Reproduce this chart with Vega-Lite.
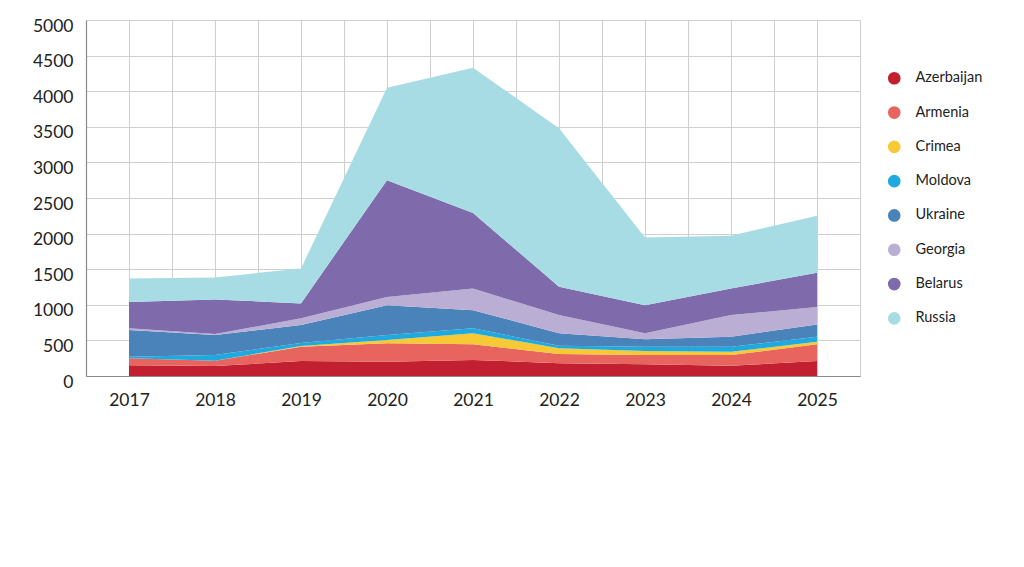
{
  "$schema": "https://vega.github.io/schema/vega-lite/v6.json",
  "width": 774,
  "height": 356,
  "autosize": {"type": "none"},
  "padding": {"left": 86, "top": 20, "right": 164, "bottom": 191},
  "background": "white",
  "config": {
    "view": {"stroke": null},
    "font": "Lato",
    "axis": {
      "grid": true,
      "gridColor": "#cfcfcf",
      "gridWidth": 1,
      "domainColor": "#8a8a8a",
      "domainWidth": 1.2,
      "ticks": false,
      "labelColor": "#222222",
      "labelFont": "Lato",
      "labelFontSize": 17.5,
      "title": null
    },
    "legend": {
      "labelFont": "Lato",
      "labelFontSize": 14.5,
      "labelColor": "#222222",
      "padding": 0
    }
  },
  "data": {
    "values": [
      {"year": 2017, "country": "Azerbaijan", "value": 150},
      {"year": 2017, "country": "Armenia", "value": 100},
      {"year": 2017, "country": "Crimea", "value": 0},
      {"year": 2017, "country": "Moldova", "value": 20},
      {"year": 2017, "country": "Ukraine", "value": 375},
      {"year": 2017, "country": "Georgia", "value": 25},
      {"year": 2017, "country": "Belarus", "value": 370},
      {"year": 2017, "country": "Russia", "value": 330},
      {"year": 2018, "country": "Azerbaijan", "value": 140},
      {"year": 2018, "country": "Armenia", "value": 75},
      {"year": 2018, "country": "Crimea", "value": 0},
      {"year": 2018, "country": "Moldova", "value": 80},
      {"year": 2018, "country": "Ukraine", "value": 280},
      {"year": 2018, "country": "Georgia", "value": 15},
      {"year": 2018, "country": "Belarus", "value": 485},
      {"year": 2018, "country": "Russia", "value": 310},
      {"year": 2019, "country": "Azerbaijan", "value": 210},
      {"year": 2019, "country": "Armenia", "value": 200},
      {"year": 2019, "country": "Crimea", "value": 10},
      {"year": 2019, "country": "Moldova", "value": 45},
      {"year": 2019, "country": "Ukraine", "value": 250},
      {"year": 2019, "country": "Georgia", "value": 95},
      {"year": 2019, "country": "Belarus", "value": 210},
      {"year": 2019, "country": "Russia", "value": 490},
      {"year": 2020, "country": "Azerbaijan", "value": 200},
      {"year": 2020, "country": "Armenia", "value": 260},
      {"year": 2020, "country": "Crimea", "value": 45},
      {"year": 2020, "country": "Moldova", "value": 70},
      {"year": 2020, "country": "Ukraine", "value": 420},
      {"year": 2020, "country": "Georgia", "value": 115},
      {"year": 2020, "country": "Belarus", "value": 1640},
      {"year": 2020, "country": "Russia", "value": 1300},
      {"year": 2021, "country": "Azerbaijan", "value": 225},
      {"year": 2021, "country": "Armenia", "value": 220},
      {"year": 2021, "country": "Crimea", "value": 155},
      {"year": 2021, "country": "Moldova", "value": 70},
      {"year": 2021, "country": "Ukraine", "value": 255},
      {"year": 2021, "country": "Georgia", "value": 305},
      {"year": 2021, "country": "Belarus", "value": 1060},
      {"year": 2021, "country": "Russia", "value": 2040},
      {"year": 2022, "country": "Azerbaijan", "value": 180},
      {"year": 2022, "country": "Armenia", "value": 130},
      {"year": 2022, "country": "Crimea", "value": 80},
      {"year": 2022, "country": "Moldova", "value": 35},
      {"year": 2022, "country": "Ukraine", "value": 175},
      {"year": 2022, "country": "Georgia", "value": 255},
      {"year": 2022, "country": "Belarus", "value": 400},
      {"year": 2022, "country": "Russia", "value": 2225},
      {"year": 2023, "country": "Azerbaijan", "value": 165},
      {"year": 2023, "country": "Armenia", "value": 130},
      {"year": 2023, "country": "Crimea", "value": 55},
      {"year": 2023, "country": "Moldova", "value": 60},
      {"year": 2023, "country": "Ukraine", "value": 105},
      {"year": 2023, "country": "Georgia", "value": 85},
      {"year": 2023, "country": "Belarus", "value": 395},
      {"year": 2023, "country": "Russia", "value": 950},
      {"year": 2024, "country": "Azerbaijan", "value": 145},
      {"year": 2024, "country": "Armenia", "value": 150},
      {"year": 2024, "country": "Crimea", "value": 45},
      {"year": 2024, "country": "Moldova", "value": 70},
      {"year": 2024, "country": "Ukraine", "value": 140},
      {"year": 2024, "country": "Georgia", "value": 305},
      {"year": 2024, "country": "Belarus", "value": 375},
      {"year": 2024, "country": "Russia", "value": 740},
      {"year": 2025, "country": "Azerbaijan", "value": 210},
      {"year": 2025, "country": "Armenia", "value": 235},
      {"year": 2025, "country": "Crimea", "value": 35},
      {"year": 2025, "country": "Moldova", "value": 70},
      {"year": 2025, "country": "Ukraine", "value": 175},
      {"year": 2025, "country": "Georgia", "value": 245},
      {"year": 2025, "country": "Belarus", "value": 480},
      {"year": 2025, "country": "Russia", "value": 800}
    ]
  },
  "transform": [
    {
      "calculate": "indexof(['Azerbaijan', 'Armenia', 'Crimea', 'Moldova', 'Ukraine', 'Georgia', 'Belarus', 'Russia'], datum.country)",
      "as": "stack_rank"
    }
  ],
  "mark": {"type": "area", "interpolate": "linear", "opacity": 1},
  "encoding": {
    "x": {
      "field": "year",
      "type": "quantitative",
      "scale": {"domain": [2016.5, 2025.5], "nice": false, "zero": false},
      "axis": {
        "values": [2016.5, 2017, 2017.5, 2018, 2018.5, 2019, 2019.5, 2020, 2020.5, 2021, 2021.5, 2022, 2022.5, 2023, 2023.5, 2024, 2024.5, 2025, 2025.5],
        "labelExpr": "datum.value % 1 == 0 ? datum.value : ''",
        "labelPadding": 15,
        "labelFlush": false,
        "labelOverlap": false
      }
    },
    "y": {
      "field": "value",
      "type": "quantitative",
      "stack": "zero",
      "scale": {"domain": [0, 5000], "nice": false},
      "axis": {
        "values": [0, 500, 1000, 1500, 2000, 2500, 3000, 3500, 4000, 4500, 5000],
        "format": "d",
        "labelPadding": 13,
        "labelOffset": 6,
        "labelFlush": false
      }
    },
    "order": {"field": "stack_rank", "type": "quantitative", "sort": "ascending"},
    "color": {
      "field": "country",
      "type": "nominal",
      "sort": ["Azerbaijan", "Armenia", "Crimea", "Moldova", "Ukraine", "Georgia", "Belarus", "Russia"],
      "scale": {
        "domain": ["Azerbaijan", "Armenia", "Crimea", "Moldova", "Ukraine", "Georgia", "Belarus", "Russia"],
        "range": ["#c21f30", "#e8645f", "#f6c935", "#1eaadf", "#4a83b9", "#baaed5", "#7f6aab", "#a7dce4"]
      },
      "legend": {
        "title": null,
        "orient": "none",
        "legendX": 801,
        "legendY": 51,
        "symbolType": "circle",
        "symbolSize": 160,
        "symbolStrokeWidth": 0,
        "symbolOpacity": 1,
        "labelOffset": 14,
        "rowPadding": 19.3
      }
    }
  }
}
